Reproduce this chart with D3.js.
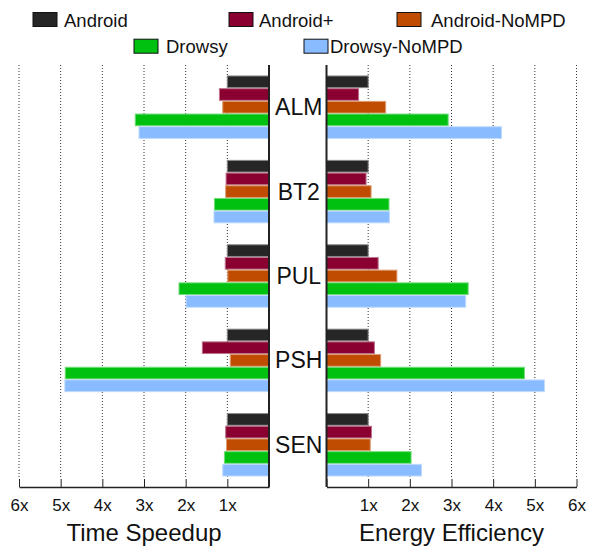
<!DOCTYPE html>
<html>
<head>
<meta charset="utf-8">
<script src="https://cdn.jsdelivr.net/npm/d3@7"></script>
<style>
  body { margin: 0; background: #fff; }
  text { font-family: "Liberation Sans", Arial, sans-serif; fill: #111; }
</style>
</head>
<body>
<svg id="chart"></svg>
<script>
const width = 589;
const height = 546;

// data
const benchmarks = ["ALM", "BT2", "PUL", "PSH", "SEN"];
const series = ["Android", "Android+", "Android-NoMPD", "Drowsy", "Drowsy-NoMPD"];
const colors = ["#262626", "#8a0030", "#bf4c00", "#00c010", "#88bbff"];
const tickValues = [0, 1, 2, 3, 4, 5, 6];
const tickLabels = ["", "1x", "2x", "3x", "4x", "5x", "6x"];

// one row per series, one value per benchmark
const timeSpeedup = [
  [1.0, 1.0, 1.0, 1.0, 1.0],
  [1.19, 1.03, 1.05, 1.60, 1.04],
  [1.11, 1.04, 0.99, 0.93, 1.02],
  [3.21, 1.31, 2.16, 4.89, 1.07],
  [3.12, 1.32, 1.99, 4.90, 1.11]
];
const energyEfficiency = [
  [1.0, 1.0, 1.0, 1.0, 1.0],
  [0.77, 0.95, 1.24, 1.15, 1.08],
  [1.42, 1.07, 1.69, 1.30, 1.05],
  [2.92, 1.50, 3.40, 4.75, 2.03],
  [4.20, 1.51, 3.34, 5.23, 2.28]
];

// legend layout: [x, row]
const legendPos = [[33, 0], [229, 0], [397, 0], [134, 1], [304, 1]];
const legendTextGap = [7, 6, 10, 8, 2];

const svg = d3.select("#chart").attr("width", width).attr("height", height);

const plotTop = 65, plotBottom = 487;

const y = d3.scaleBand().domain(benchmarks).range([plotTop, plotBottom])
  .paddingInner(0.26).paddingOuter(0.13);
const ySub = d3.scaleBand().domain(series).range([0, y.bandwidth()])
  .paddingInner(0.08);

const xLeft = d3.scaleLinear().domain([0, 6]).range([269, 19]);
const xRight = d3.scaleLinear().domain([0, 6]).range([326.5, 576.5]);

function rows(values) {
  const out = [];
  series.forEach((s, i) => {
    benchmarks.forEach((b, j) => {
      out.push({ series: s, bench: b, value: values[i][j], color: colors[i] });
    });
  });
  return out;
}

function panel(x, values, title) {
  const g = svg.append("g");

  // dotted grid
  g.selectAll(".grid")
    .data(tickValues.slice(1))
    .enter()
    .append("line")
    .attr("x1", d => x(d))
    .attr("x2", d => x(d))
    .attr("y1", plotTop)
    .attr("y2", plotBottom - 8)
    .attr("stroke", "#333")
    .attr("stroke-width", 1)
    .attr("stroke-dasharray", "1,2");

  // bars
  g.selectAll(".bar")
    .data(rows(values))
    .enter()
    .append("rect")
    .attr("x", d => Math.min(x(0), x(d.value)))
    .attr("width", d => Math.abs(x(d.value) - x(0)))
    .attr("y", d => y(d.bench) + ySub(d.series))
    .attr("height", ySub.bandwidth())
    .attr("fill", d => d.color)
    .attr("stroke", d => d3.interpolateRgb(d.color, "#fff")(0.45))
    .attr("stroke-width", 1);

  // axis line at zero
  g.append("line")
    .attr("x1", x(0)).attr("x2", x(0))
    .attr("y1", plotTop).attr("y2", plotBottom)
    .attr("stroke", "#222")
    .attr("stroke-width", 2);

  const axis = g.append("g")
    .attr("transform", "translate(0," + plotBottom + ")")
    .call(d3.axisBottom(x)
      .tickValues(tickValues)
      .tickSize(-8)
      .tickSizeOuter(0)
      .tickPadding(12)
      .tickFormat((d, i) => tickLabels[i]));
  axis.select(".domain").attr("stroke", "#222").attr("stroke-width", 1.5);
  axis.selectAll(".tick line").attr("stroke", "#222").attr("stroke-width", 1);
  axis.selectAll(".tick text")
    .style("font-family", '"Liberation Sans", Arial, sans-serif')
    .style("font-size", "17px")
    .attr("fill", "#111");

  g.append("text")
    .attr("x", (x(0) + x(6)) / 2)
    .attr("y", 541)
    .attr("text-anchor", "middle")
    .style("font-size", "24px")
    .text(title);
}

panel(xLeft, timeSpeedup, "Time Speedup");
panel(xRight, energyEfficiency, "Energy Efficiency");

// benchmark labels in the middle
svg.selectAll(".bench")
  .data(benchmarks)
  .enter()
  .append("text")
  .attr("x", (xLeft(0) + xRight(0)) / 2 + 1)
  .attr("y", d => y(d) + y.bandwidth() / 2 + 8)
  .attr("text-anchor", "middle")
  .style("font-size", "23px")
  .text(d => d);

// legend
const legend = svg.selectAll(".legend")
  .data(series)
  .enter()
  .append("g")
  .attr("transform", (d, i) => "translate(" + legendPos[i][0] + "," + (12.5 + legendPos[i][1] * 26.7) + ")");

legend.append("rect")
  .attr("width", 24)
  .attr("height", 14)
  .attr("fill", (d, i) => colors[i])
  .attr("stroke", "#111")
  .attr("stroke-width", 1);

legend.append("text")
  .attr("x", (d, i) => 24 + legendTextGap[i])
  .attr("y", 14)
  .style("font-size", "18.5px")
  .text(d => d);
</script>
</body>
</html>
